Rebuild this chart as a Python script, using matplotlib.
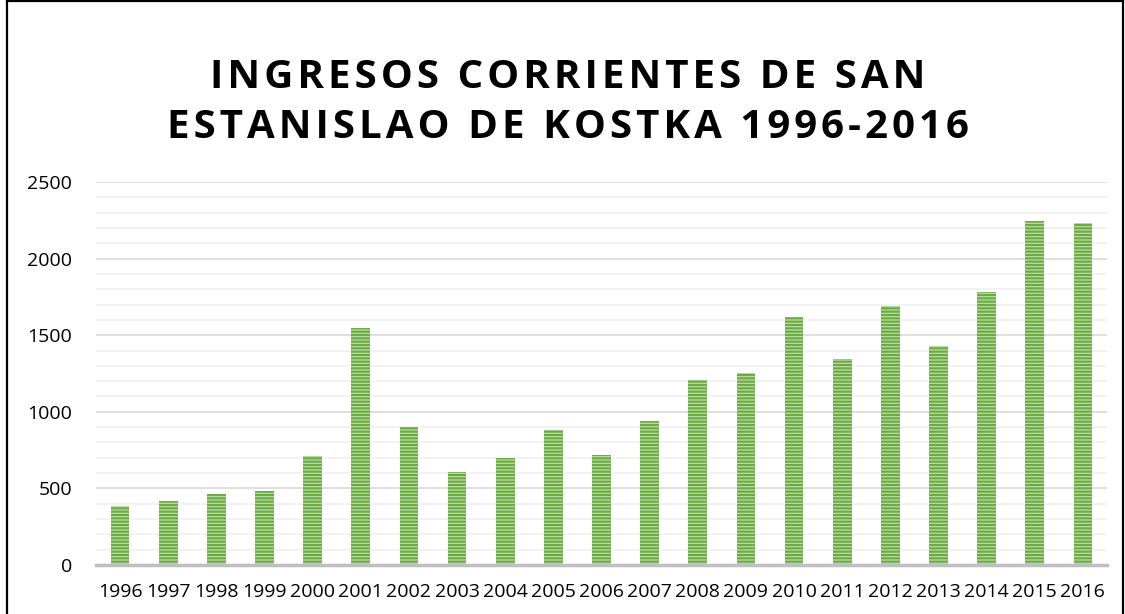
import matplotlib.pyplot as plt
from matplotlib.lines import Line2D
from matplotlib.ticker import MultipleLocator

# data
years = [str(y) for y in range(1996, 2017)]
ingresos = [383, 415, 461, 480, 710, 1548, 898, 607, 696, 879, 716,
            939, 1205, 1255, 1622, 1342, 1692, 1427, 1783, 2248, 2231]

title_lines = ["INGRESOS CORRIENTES DE SAN", "ESTANISLAO DE KOSTKA 1996-2016"]

plt.rcParams["font.family"] = ["Open Sans", "DejaVu Sans"]
plt.rcParams["hatch.linewidth"] = 1.5

fig = plt.figure(figsize=(11.25, 6.14), dpi=100)
ax = fig.add_axes([0.0853, 0.0798, 0.8987, 0.6238])

x = range(len(years))
ax.bar(x, ingresos, width=0.39, color="#B9DBA3", edgecolor="#6AAB42",
       linewidth=0, hatch="-----", zorder=3)

ax.set_xlim(-0.5, len(years) - 0.5)
ax.set_ylim(0, 2500)
ax.yaxis.set_major_locator(MultipleLocator(500))
ax.yaxis.set_minor_locator(MultipleLocator(100))
ax.grid(axis="y", which="major", color="#D9D9D9", linewidth=1.2, zorder=0)
ax.grid(axis="y", which="minor", color="#F0F0F0", linewidth=1.2, zorder=0)
ax.set_xticks(list(x))
ax.set_xticklabels(years)

for s in ["top", "right", "left"]:
    ax.spines[s].set_visible(False)
ax.spines["bottom"].set_color("#BFBFBF")
ax.spines["bottom"].set_linewidth(2.5)
ax.spines["bottom"].set_zorder(4)

ax.tick_params(axis="both", which="both", length=0, labelsize=14, colors="#000000")
ax.tick_params(axis="y", pad=17)
ax.tick_params(axis="x", pad=13)

# title, two centred lines with wide letter spacing
for i, line in enumerate(title_lines):
    spaced = "\u200a".join(line)
    fig.text(0.505, 1 - (77 + 50 * i) / 614, spaced, ha="center", va="center",
             fontsize=29, fontweight="bold", color="#000000")

# chart frame
for xs, ys in [([0.006, 0.006], [0, 1]), ([0.006, 0.998], [0.998, 0.998]),
               ([0.998, 0.998], [0, 0.998])]:
    fig.add_artist(Line2D(xs, ys, color="black", linewidth=1.6,
                          transform=fig.transFigure))

fig.savefig("out.png", dpi=100)
